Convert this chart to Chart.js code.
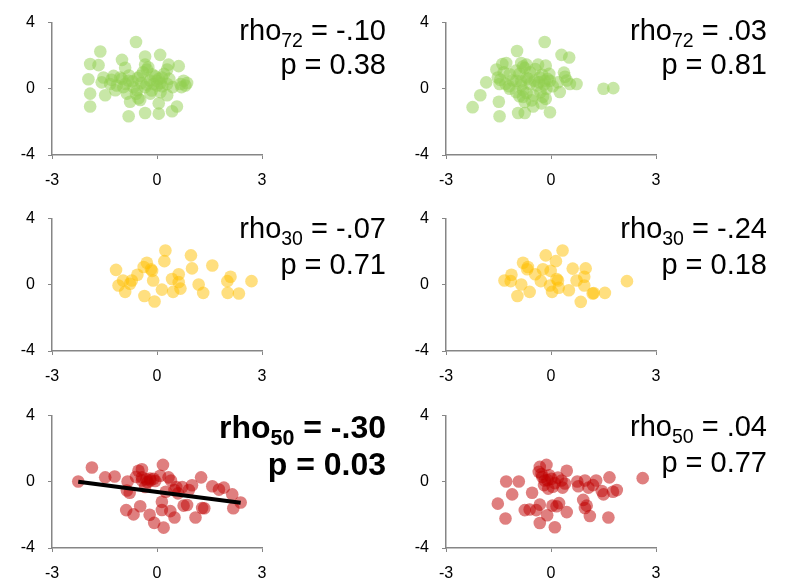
<!DOCTYPE html>
<html>
<head>
<meta charset="utf-8">
<script src="https://cdn.jsdelivr.net/npm/chart.js@4"></script>
<style>
  body { margin: 0; background: #fff; }
  #wrap { position: relative; width: 793px; height: 588px; overflow: hidden; }
  #wrap canvas { position: absolute; }
  .stat { position: absolute; width: 300px; text-align: right; font-family: "Liberation Sans", Arial, sans-serif;
          font-size: 29px; line-height: 34px; color: #000; }
  .stat sub { font-size: 19.5px; vertical-align: -6.5px; line-height: 0; }
  .stat.bold { font-weight: bold; font-size: 32px; line-height: 37.3px; }
  .stat.bold sub { font-size: 21.5px; vertical-align: -7px; }
</style>
</head>
<body>
<div id="wrap">
  <canvas id="c0" width="394" height="196" style="left:0;top:0"></canvas>
  <canvas id="c1" width="394" height="196" style="left:394px;top:0"></canvas>
  <canvas id="c2" width="394" height="196" style="left:0;top:196px"></canvas>
  <canvas id="c3" width="394" height="196" style="left:394px;top:196px"></canvas>
  <canvas id="c4" width="394" height="196" style="left:0;top:393px"></canvas>
  <canvas id="c5" width="394" height="196" style="left:394px;top:393px"></canvas>

  <div class="stat" style="left:86px;top:13px">rho<sub>72</sub> = -.10<br>p = 0.38</div>
  <div class="stat" style="left:467px;top:13px">rho<sub>72</sub> = .03<br>p = 0.81</div>
  <div class="stat" style="left:86px;top:211px;line-height:35.5px">rho<sub>30</sub> = -.07<br>p = 0.71</div>
  <div class="stat" style="left:467px;top:211px;line-height:35.5px">rho<sub>30</sub> = -.24<br>p = 0.18</div>
  <div class="stat bold" style="left:86px;top:409px">rho<sub>50</sub> = -.30<br>p = 0.03</div>
  <div class="stat" style="left:467px;top:409px;line-height:35.7px">rho<sub>50</sub> = .04<br>p = 0.77</div>
</div>
<script>
// tick labels
var xTicks = [-3, 0, 3];
var yTicks = [-4, 0, 4];

// panel data, [x, y]
var greenLeft = [
  [-0.60,2.83],[-1.62,2.25],[0.09,2.05],[-0.34,1.95],[-1.00,1.75],[-1.91,1.50],[-1.67,1.43],[-0.91,1.27],
  [-0.34,1.46],[0.33,1.46],[0.62,1.37],[-0.29,1.17],[0.29,1.17],[-1.96,0.58],[-1.53,0.68],[-1.24,0.78],
  [-1.05,0.68],[-0.81,0.49],[-0.48,0.78],[-0.14,0.88],[0.00,0.49],[0.14,0.68],[-0.10,0.29],[0.76,0.49],
  [0.81,0.20],[0.67,0.29],[-1.58,0.39],[-1.34,0.29],[-1.15,0.20],[-0.96,0.10],[-0.67,0.10],[-0.57,-0.09],
  [-0.34,0.10],[0.29,0.29],[-1.91,-0.29],[-1.48,-0.39],[-1.19,-0.09],[-0.86,-0.29],[-0.53,-0.58],[-0.19,-0.29],
  [0.29,-0.39],[-0.77,-0.78],[-0.48,-0.68],[0.05,-0.88],[0.57,-1.07],[-1.91,-1.07],[-0.81,-1.66],[-0.34,-1.46],
  [0.05,-1.50],[0.43,-1.36],[0.86,0.35],[-0.20,0.50],[-0.05,0.75],[0.10,0.35],[-0.40,1.00],[-0.70,0.45],
  [-1.00,0.60],[-0.30,0.25],[0.20,0.90],[0.00,0.20],[-0.60,-0.30],[-0.90,0.30],[0.45,0.10],[-0.15,-0.10],
  [0.70,0.10],[-1.30,0.55],[0.35,0.60],[-0.45,0.35],[0.10,-0.20],[-0.25,1.30],[0.15,0.15],[-0.80,0.80],
  [0.05,0.60],[-0.55,0.65]
];
var greenRight = [
  [-0.18,2.83],[-0.97,2.28],[0.30,2.05],[0.52,1.89],[-1.39,1.50],[-1.56,1.17],[-1.28,1.56],[-0.85,1.56],
  [-0.70,1.46],[-0.37,1.46],[-0.15,1.40],[0.37,0.98],[0.40,0.73],[-1.85,0.39],[-1.52,0.68],[-1.47,0.29],
  [-1.18,0.88],[-0.99,0.49],[-0.70,0.68],[-0.47,0.49],[-0.32,0.68],[-0.18,0.49],[-0.03,0.49],[0.20,0.39],
  [0.54,0.29],[0.73,0.29],[-1.18,0.00],[-0.80,-0.09],[-0.80,-0.49],[-0.13,0.00],[0.25,-0.19],[-2.02,-0.39],
  [-2.24,-1.11],[-1.49,-0.78],[-1.47,-1.66],[-0.94,-1.46],[-0.75,-1.46],[-0.51,-1.07],[-0.27,-0.88],[-0.23,-0.49],
  [-0.03,-1.42],[1.50,0.00],[1.78,0.04],[-0.60,1.00],[-0.90,0.90],[-0.40,0.20],[-0.60,0.30],[-0.85,0.20],
  [-1.10,0.50],[-1.30,0.30],[-0.25,0.85],[-0.05,0.90],[-0.75,-0.80],[-0.50,-0.40],[-0.15,-0.60],[-1.00,-0.20],
  [-0.65,0.60],[-1.35,1.00],[-0.45,1.20],[-0.20,0.25],[-0.90,-0.45],[0.45,0.50],[-1.20,0.15],[-0.55,-0.70],
  [-0.30,-0.20],[-0.75,1.25],[-1.45,0.55],[-0.10,0.60],[-0.85,0.45],[-0.35,0.40],[-0.70,-0.25],[-1.00,1.10],
  [0.05,0.15],[-0.80,1.35]
];
var yellowLeft = [
  [-1.17,0.90],[-1.10,-0.04],[-0.97,0.26],[-0.91,-0.43],[-0.72,0.26],[-0.56,0.61],[-0.38,1.08],[-0.29,1.33],
  [-0.17,0.94],[-0.11,0.26],[-0.36,-0.68],[-0.07,-1.01],[0.24,2.07],[0.21,1.43],[0.14,-0.29],[0.43,0.35],
  [0.46,-0.43],[0.62,0.64],[0.62,0.16],[0.67,-0.23],[0.97,1.78],[1.00,0.99],[1.19,0.02],[1.32,-0.49],
  [1.58,1.17],[2.01,0.22],[2.10,0.49],[2.02,-0.49],[2.34,-0.53],[2.70,0.22],[-0.77,0.06],[-0.14,0.84]
];
var yellowRight = [
  [-1.33,0.26],[-1.13,0.61],[-1.15,0.22],[-0.85,0.02],[-0.96,-0.68],[-0.61,-0.43],[-0.80,1.33],[-0.66,1.08],
  [-0.68,0.94],[-0.45,0.64],[-0.29,0.22],[-0.23,0.94],[-0.15,1.78],[-0.01,0.84],[0.14,1.43],[0.33,2.07],
  [-0.03,-0.04],[0.03,-0.43],[0.20,0.26],[0.22,-0.18],[0.51,-0.33],[0.62,0.98],[0.73,0.26],[0.95,0.49],
  [0.99,0.99],[0.95,-0.04],[0.85,-1.03],[1.19,-0.53],[1.54,-0.49],[2.17,0.22],[0.16,0.35],[1.22,-0.50]
];
var redLeft = [
  [-2.25,0.02],[-1.86,0.86],[-1.48,0.27],[-1.21,0.32],[-0.84,0.02],[-0.78,-0.66],[-0.86,-0.53],[-0.88,-1.71],
  [-0.67,-1.97],[-0.48,-1.48],[-0.53,0.67],[-0.43,0.76],[-0.43,0.08],[-0.34,-0.31],[-0.19,0.08],[-0.10,0.18],
  [-0.27,-0.02],[-0.43,0.27],[0.17,1.02],[0.09,0.37],[0.33,0.27],[0.40,0.08],[0.55,-0.31],[0.72,-0.31],
  [1.00,-0.21],[0.91,-0.50],[1.26,0.27],[1.58,-0.27],[1.77,-0.47],[1.91,-0.35],[2.15,-0.76],[2.18,-1.60],
  [2.39,-1.25],[1.29,-1.58],[1.35,-1.60],[0.76,-1.44],[0.86,-1.40],[1.10,-2.16],[0.50,-2.16],[0.38,-1.77],
  [0.14,-1.70],[0.14,-1.21],[-0.21,-1.99],[-0.08,-2.48],[0.19,-2.77],[-0.20,0.20],[-0.05,0.05],[0.50,-0.50],
  [0.25,-0.60],[-0.60,0.30],[-0.30,0.15],[0.60,-0.70]
];
var redRight = [
  [-1.52,-1.32],[-1.30,-2.22],[-1.28,0.02],[-0.92,0.02],[-1.11,-0.76],[-0.75,-1.71],[-0.61,-1.67],[-0.54,-0.66],
  [-0.42,-1.71],[-0.32,-1.38],[-0.32,-2.49],[-0.32,0.90],[-0.13,1.02],[-0.27,0.47],[-0.18,0.08],[0.01,0.18],
  [-0.08,-0.41],[0.11,-0.08],[0.30,0.08],[0.33,-0.35],[0.45,0.67],[-0.11,-2.02],[0.04,-1.44],[0.16,-1.48],
  [0.23,-1.29],[0.45,-1.83],[0.11,-2.75],[0.75,0.02],[0.78,-0.27],[0.97,0.08],[1.07,-0.35],[1.29,0.08],
  [0.92,-1.09],[1.02,-1.44],[0.97,-1.58],[1.11,-2.07],[1.64,-2.16],[1.67,0.27],[1.45,-0.56],[1.50,-0.76],
  [1.77,-0.60],[1.88,-0.50],[2.62,0.22],[-0.25,0.30],[-0.05,0.40],[0.20,0.25],[-0.20,-0.20],[0.40,-0.10],
  [-0.35,0.60],[0.05,-0.30],[1.20,-0.20],[-0.10,0.10]
];

// fitted line for the bottom-left panel
var trendX = [-2.25, 2.39];
var trendY = [0.0, -1.27];

var green = 'rgba(146, 208, 80, 0.5)';
var yellow = 'rgba(255, 192, 0, 0.5)';
var red = 'rgba(192, 0, 0, 0.5)';

function toPoints(arr) {
    return arr.map(function (p) { return { x: p[0], y: p[1] }; });
}

function makeChart(id, pts, color, line) {
    var datasets = [{
        type: 'scatter',
        data: toPoints(pts),
        backgroundColor: color,
        borderWidth: 0,
        pointRadius: 6.3,
        pointHoverRadius: 6.3,
        order: 1
    }];
    if (line) {
        datasets.push({
            type: 'line',
            data: line[0].map(function (x, i) { return { x: x, y: line[1][i] }; }),
            borderColor: '#000',
            borderWidth: 4,
            pointRadius: 0,
            fill: false,
            order: 0
        });
    }
    var axisGrid = { display: true, drawOnChartArea: false, drawTicks: true, tickLength: 4, color: '#868686', lineWidth: 1 };
    var axisBorder = { display: true, color: '#868686', width: 1.5 };
    var tickFont = { family: '"Liberation Sans", Arial, sans-serif', size: 16 };
    return new Chart(document.getElementById(id), {
        type: 'scatter',
        data: { datasets: datasets },
        options: {
            responsive: false,
            animation: false,
            devicePixelRatio: 1,
            layout: { padding: { left: 0, right: 132, top: 18, bottom: 0 } },
            plugins: { legend: { display: false }, tooltip: { enabled: false } },
            scales: {
                x: {
                    type: 'linear', min: xTicks[0], max: xTicks[xTicks.length - 1],
                    afterBuildTicks: function (s) { s.ticks = xTicks.map(function (v) { return { value: v }; }); },
                    afterFit: function (s) { s.height = 41; },
                    grid: axisGrid, border: axisBorder,
                    ticks: { color: '#000', font: tickFont, padding: 12, maxRotation: 0 }
                },
                y: {
                    type: 'linear', min: yTicks[0], max: yTicks[yTicks.length - 1],
                    afterBuildTicks: function (s) { s.ticks = yTicks.map(function (v) { return { value: v }; }); },
                    afterFit: function (s) { s.width = 52; },
                    grid: axisGrid, border: axisBorder,
                    ticks: { color: '#000', font: tickFont, padding: 13 }
                }
            }
        }
    });
}

makeChart('c0', greenLeft, green);
makeChart('c1', greenRight, green);
makeChart('c2', yellowLeft, yellow);
makeChart('c3', yellowRight, yellow);
makeChart('c4', redLeft, red, [trendX, trendY]);
makeChart('c5', redRight, red);
</script>
</body>
</html>
